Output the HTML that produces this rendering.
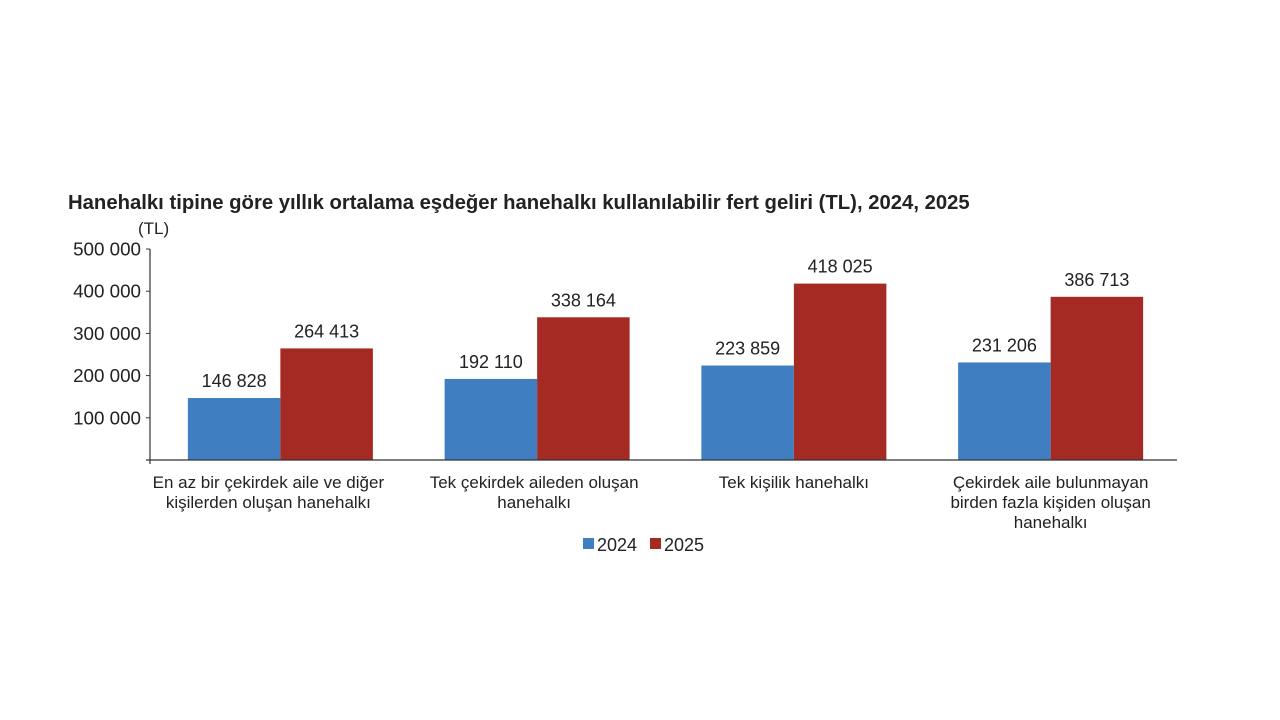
<!DOCTYPE html>
<html><head><meta charset="utf-8">
<style>
body{margin:0;background:#fff;width:1280px;height:720px;overflow:hidden}
svg{display:block}
text{font-family:"Liberation Sans",sans-serif;fill:#222}
</style></head>
<body>
<svg id="chart" width="1280" height="720">
<text x="68" y="209" font-size="20.3" font-weight="bold" fill="#111">Hanehalkı tipine göre yıllık ortalama eşdeğer hanehalkı kullanılabilir fert geliri (TL), 2024, 2025</text>
<text x="138" y="234" font-size="17">(TL)</text>
<g id="plot"></g>
</svg>
<script>
const categories=[["En az bir çekirdek aile ve diğer","kişilerden oluşan hanehalkı"],["Tek çekirdek aileden oluşan","hanehalkı"],["Tek kişilik hanehalkı"],["Çekirdek aile bulunmayan","birden fazla kişiden oluşan","hanehalkı"]];
const values2024=[146828,192110,223859,231206];
const values2025=[264413,338164,418025,386713];
const yTicks=[100000,200000,300000,400000,500000];
const seriesNames=["2024","2025"];
const ns="http://www.w3.org/2000/svg";
const g=document.getElementById('plot');
const X0=150,X1=1177,Y0=460,Y500=249;
const y=v=>Y0-(v/500000)*(Y0-Y500);
const cw=(X1-X0)/categories.length;
const bw=92.5;
const labelShift=[-12,-3,0,0];
function el(t,a,txt){const e=document.createElementNS(ns,t);for(const k in a)e.setAttribute(k,a[k]);if(txt!==undefined)e.textContent=txt;g.appendChild(e);return e;}
const fmt=v=>String(v).replace(/\B(?=(\d{3})+(?!\d))/g,' ');
yTicks.forEach(t=>{
 const l=el('line',{x1:X0-4,x2:X0,y1:y(t),y2:y(t),stroke:'#333','stroke-width':1});
 
 
 const tx=el('text',{x:X0-9,y:y(t)+6.5,'font-size':18.8,'text-anchor':'end'},fmt(t));
 
 
});
categories.forEach((c,i)=>{
 const cx=X0+2+cw*(i+0.5);
 [[values2024,'#3f7fc1',cx-bw],[values2025,'#a52a23',cx]].forEach((s,j)=>{
  const v=s[0][i];
  const r=el('rect',{x:s[2],y:y(v),width:bw,height:Y0-y(v),fill:s[1]});
  
  
  const t=el('text',{x:s[2]+bw/2,y:y(v)-11,'font-size':18,'text-anchor':'middle'},fmt(v));
  
  
 });
 c.forEach((line,k)=>{
  const t=el('text',{x:cx+labelShift[i],y:488+k*20,'font-size':17,'text-anchor':'middle'},line);
  
  
 });
});
const ya=el('line',{x1:X0,x2:X0,y1:Y500,y2:Y0+4,stroke:'#333','stroke-width':1.2});


const xa=el('line',{x1:X0-4,x2:X1,y1:Y0,y2:Y0,stroke:'#333','stroke-width':1.2});


[['#3f7fc1',583,'2024'],['#a52a23',650,'2025']].forEach(l=>{
 const r=el('rect',{x:l[1],y:538,width:11,height:11,fill:l[0]});
 
 
 const t=el('text',{x:l[1]+14,y:551,'font-size':18},l[2]);
 
 
});
</script>
</body></html>
